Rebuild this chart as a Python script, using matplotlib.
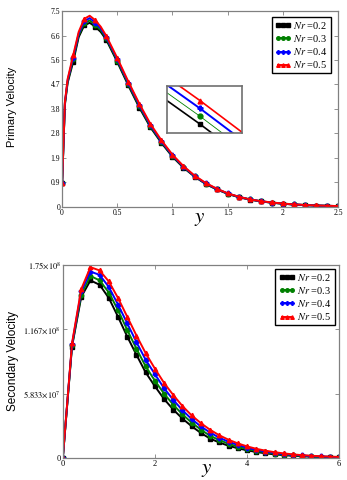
import numpy as np
import matplotlib
matplotlib.use('Agg')
import matplotlib.pyplot as plt

plt.rcParams['mathtext.fontset'] = 'stix'
plt.rcParams['font.family'] = 'Liberation Serif'

# Primary velocity data (top panel)
y_p = [0, 0.025, 0.05, 0.1, 0.15, 0.2, 0.25, 0.3, 0.35, 0.4, 0.5, 0.6, 0.7, 0.8, 0.9, 1.0,
       1.1, 1.2, 1.3, 1.4, 1.5, 1.6, 1.7, 1.8, 1.9, 2.0, 2.1, 2.2, 2.3, 2.4, 2.5]
prim_02 = [0.9, 3.9, 4.75, 5.55, 6.5, 6.95, 7.05, 6.9, 6.7, 6.4, 5.55, 4.65, 3.8, 3.05, 2.45, 1.92,
           1.5, 1.16, 0.88, 0.67, 0.5, 0.37, 0.28, 0.21, 0.16, 0.12, 0.09, 0.07, 0.05, 0.04, 0.03]
prim_03 = [0.9, 3.95, 4.8, 5.65, 6.57, 7.03, 7.14, 6.98, 6.77, 6.45, 5.6, 4.7, 3.85, 3.09, 2.48, 1.95,
           1.52, 1.17, 0.89, 0.68, 0.51, 0.38, 0.285, 0.213, 0.163, 0.123, 0.092, 0.071, 0.051, 0.041, 0.031]
prim_04 = [0.9, 3.98, 4.85, 5.72, 6.63, 7.11, 7.23, 7.06, 6.83, 6.5, 5.65, 4.75, 3.9, 3.13, 2.51, 1.97,
           1.54, 1.18, 0.9, 0.69, 0.515, 0.385, 0.288, 0.217, 0.166, 0.126, 0.093, 0.071, 0.052, 0.041, 0.031]
prim_05 = [0.9, 4.0, 4.9, 5.8, 6.7, 7.2, 7.32, 7.15, 6.9, 6.55, 5.7, 4.8, 3.95, 3.18, 2.55, 2.0,
           1.56, 1.2, 0.92, 0.7, 0.52, 0.39, 0.29, 0.22, 0.17, 0.13, 0.095, 0.072, 0.054, 0.042, 0.032]

# Secondary velocity data (bottom panel), values in units of 1e8
y_s = [0, 0.2, 0.4, 0.6, 0.8, 1.0, 1.2, 1.4, 1.6, 1.8, 2.0, 2.2, 2.4, 2.6, 2.8, 3.0,
       3.2, 3.4, 3.6, 3.8, 4.0, 4.2, 4.4, 4.6, 4.8, 5.0, 5.2, 5.4, 5.6, 5.8, 6.0]
sec_02 = [0, 1.01, 1.46, 1.61, 1.57, 1.45, 1.28, 1.10, 0.935, 0.775, 0.65, 0.534, 0.438, 0.356, 0.287, 0.226,
          0.175, 0.14, 0.11, 0.088, 0.069, 0.054, 0.042, 0.032, 0.025, 0.019, 0.015, 0.011, 0.009, 0.007, 0.005]
sec_03 = [0, 1.02, 1.48, 1.65, 1.61, 1.50, 1.34, 1.16, 0.99, 0.83, 0.70, 0.583, 0.482, 0.394, 0.32, 0.256,
          0.2, 0.162, 0.128, 0.103, 0.081, 0.064, 0.05, 0.039, 0.030, 0.023, 0.018, 0.014, 0.011, 0.009, 0.006]
sec_04 = [0, 1.03, 1.51, 1.69, 1.66, 1.55, 1.39, 1.22, 1.05, 0.89, 0.76, 0.632, 0.526, 0.432, 0.352, 0.285,
          0.23, 0.183, 0.147, 0.118, 0.093, 0.073, 0.058, 0.045, 0.035, 0.028, 0.022, 0.017, 0.013, 0.010, 0.007]
sec_05 = [0, 1.04, 1.53, 1.73, 1.70, 1.60, 1.45, 1.28, 1.11, 0.95, 0.81, 0.68, 0.57, 0.47, 0.385, 0.315,
          0.255, 0.205, 0.165, 0.132, 0.105, 0.083, 0.066, 0.052, 0.041, 0.032, 0.025, 0.02, 0.015, 0.012, 0.009]

labels = ['$Nr$ =0.2', '$Nr$ =0.3', '$Nr$ =0.4', '$Nr$ =0.5']
colors = ['black', 'green', 'blue', 'red']
markers = ['s', 'o', 'P', '^']

prim_ticks = [0, 0.9, 1.9, 2.8, 3.8, 4.7, 5.6, 6.6, 7.5]
sec_tick_labels = ['0', r'$5.833{\times}10^{7}$', r'$1.167{\times}10^{8}$', r'$1.75{\times}10^{8}$']

fig = plt.figure(figsize=(3.47, 4.8), dpi=100)
ax1 = fig.add_axes([0.179, 0.569, 0.795, 0.408])
ax2 = fig.add_axes([0.181, 0.046, 0.796, 0.402])


def style_axes(ax, size=5.5):
    for sp in ax.spines.values():
        sp.set_color('#808080')
        sp.set_linewidth(0.9)
    ax.tick_params(direction='in', length=3, width=0.6, color='#808080',
                   labelsize=size, pad=1.5, top=True, right=True)


def add_legend(ax, anchor):
    ax.legend(loc='upper right', bbox_to_anchor=anchor, fontsize=7.5, numpoints=3,
              markerscale=0.8, handlelength=1.6, handletextpad=0.2, labelspacing=0.2,
              borderpad=0.3, borderaxespad=0, fancybox=False, edgecolor='black',
              framealpha=1)


# top panel
mk_p = [i for i, v in enumerate(y_p) if abs(v * 10 - round(v * 10)) < 1e-6]
for vals, c, m, lab in zip([prim_02, prim_03, prim_04, prim_05], colors, markers, labels):
    ax1.plot(y_p, vals, color=c, lw=1.4, marker=m, ms=3.2, markevery=mk_p, label=lab)
ax1.set_xlim(0, 2.5)
ax1.set_ylim(0, 7.5)
ax1.set_xticks([0, 0.5, 1, 1.5, 2, 2.5])
ax1.set_xticklabels(['0', '0.5', '1', '1.5', '2', '2.5'])
ax1.set_yticks([7.5 * k / 8 for k in range(9)])
ax1.set_yticklabels([str(t) for t in prim_ticks])
style_axes(ax1)
ax1.set_ylabel('Primary Velocity', family='Liberation Sans', fontsize=8)
ax1.yaxis.set_label_coords(-0.163, 0.51)
ax1.set_xlabel('$y$', fontsize=15)
ax1.xaxis.set_label_coords(0.5, -0.01)
add_legend(ax1, (0.975, 0.97))

# inset zoom
axin = fig.add_axes([0.481, 0.723, 0.216, 0.098])
lws = [1.2, 0.6, 1.4, 1.2]
for vals, c, m, lw in zip([prim_02, prim_03, prim_04, prim_05], colors, markers, lws):
    axin.plot(y_p, vals, color=c, lw=lw, marker=m, ms=3.5, markevery=mk_p)
axin.set_xlim(0.4824, 0.5224)
axin.set_ylim(5.493, 5.793)
axin.set_xticks([])
axin.set_yticks([])
for sp in axin.spines.values():
    sp.set_color('#707070')
    sp.set_linewidth(1.2)

# bottom panel
for vals, c, m, lab in zip([sec_02, sec_03, sec_04, sec_05], colors, markers, labels):
    ax2.plot(y_s, np.array(vals) * 1e8, color=c, lw=1.4, marker=m, ms=3.2, label=lab)
ax2.set_xlim(0, 6)
ax2.set_ylim(0, 1.75e8)
ax2.set_xticks([0, 2, 4, 6])
ax2.set_yticks([1.75e8 * k / 3 for k in range(4)])
ax2.set_yticklabels(sec_tick_labels)
style_axes(ax2, size=6)
ax2.set_ylabel('Secondary Velocity', family='Liberation Sans', fontsize=8.5)
ax2.yaxis.set_label_coords(-0.16, 0.5)
ax2.set_xlabel('$y$', fontsize=15)
ax2.xaxis.set_label_coords(0.52, -0.01)
add_legend(ax2, (0.985, 0.98))

fig.savefig('out.png', dpi=100)
